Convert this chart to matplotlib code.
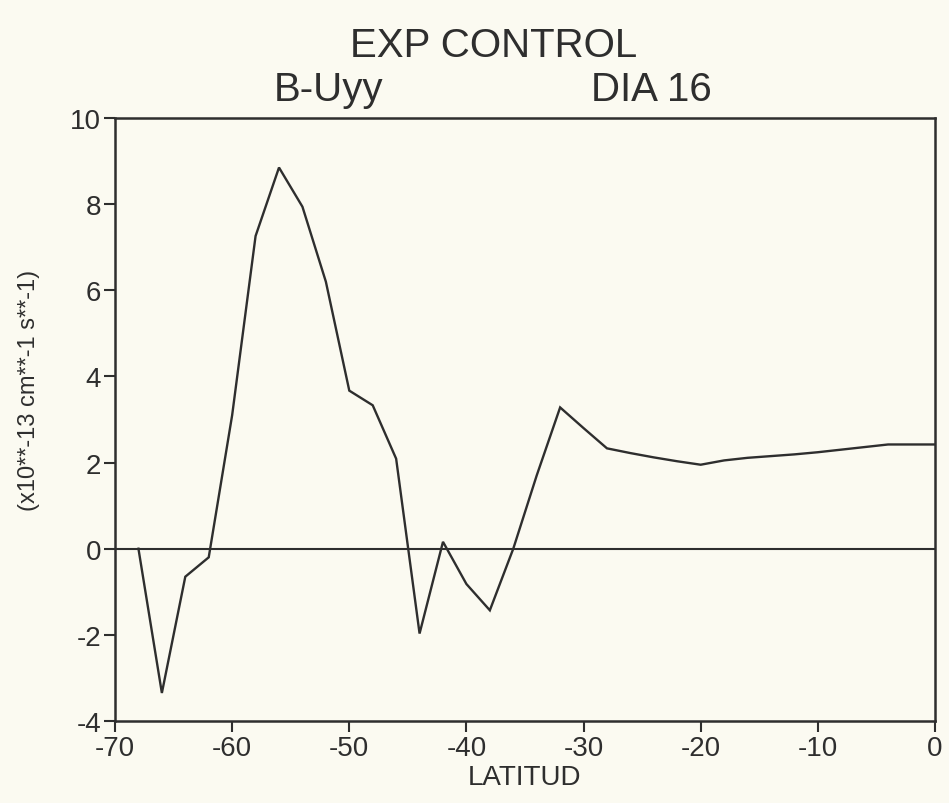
import matplotlib
matplotlib.use("Agg")
import matplotlib.pyplot as plt

# Data
latitude = [-68, -66, -64, -62, -60, -58, -56, -54, -52, -50, -48, -46, -44, -42,
            -40, -38, -36, -34, -32, -30, -28, -26, -24, -22, -20, -18, -16, -14,
            -12, -10, -8, -6, -4, -2, 0]
buyy = [0.0, -3.35, -0.65, -0.2, 3.1, 7.26, 8.85, 7.94, 6.2, 3.67, 3.33, 2.09, -1.97, 0.16,
        -0.82, -1.43, 0.0, 1.7, 3.28, 2.8, 2.33, 2.22, 2.12, 2.03, 1.95, 2.05, 2.11, 2.15,
        2.19, 2.24, 2.3, 2.36, 2.42, 2.42, 2.42]

x_ticks = [-70, -60, -50, -40, -30, -20, -10, 0]
y_ticks = [-4, -2, 0, 2, 4, 6, 8, 10]

title_main = "EXP CONTROL"
title_left = "B-Uyy"
title_right = "DIA 16"
x_label = "LATITUD"
y_label = "(x10**-13 cm**-1 s**-1)"

paper = "#fbfaf1"
ink = "#2e2e2e"

plt.rcParams['font.family'] = ['Liberation Sans', 'DejaVu Sans']

fig = plt.figure(figsize=(9.49, 8.04), dpi=100, facecolor=paper)
ax = fig.add_axes([0.1212, 0.102, 0.8640, 0.750])
ax.set_facecolor(paper)

ax.plot(latitude, buyy, color=ink, lw=1.7, solid_joinstyle='miter')
ax.axhline(0, color=ink, lw=1.5)

ax.set_xlim(-70, 0)
ax.set_ylim(-4, 10)
ax.set_xticks(x_ticks)
ax.set_yticks(y_ticks)
ax.set_xticklabels([str(v) for v in x_ticks])
ax.set_yticklabels([str(v) for v in y_ticks])

for s in ax.spines.values():
    s.set_color(ink)
    s.set_linewidth(1.8)

ax.tick_params(axis='both', direction='out', length=8, width=1.5, color=ink,
               labelcolor=ink, labelsize=20, pad=2)

ax.set_xlabel(x_label, fontsize=20, color=ink, labelpad=2)
ax.set_ylabel(y_label, fontsize=17, color=ink, labelpad=10)
ax.yaxis.set_label_coords(-0.092, 0.55)

fig.text(0.520, 0.943, title_main, ha='center', va='center', fontsize=29, color=ink)
fig.text(0.346, 0.888, title_left, ha='center', va='center', fontsize=29, color=ink)
fig.text(0.686, 0.888, title_right, ha='center', va='center', fontsize=29, color=ink)

fig.savefig("out.png", dpi=100, facecolor=paper)
